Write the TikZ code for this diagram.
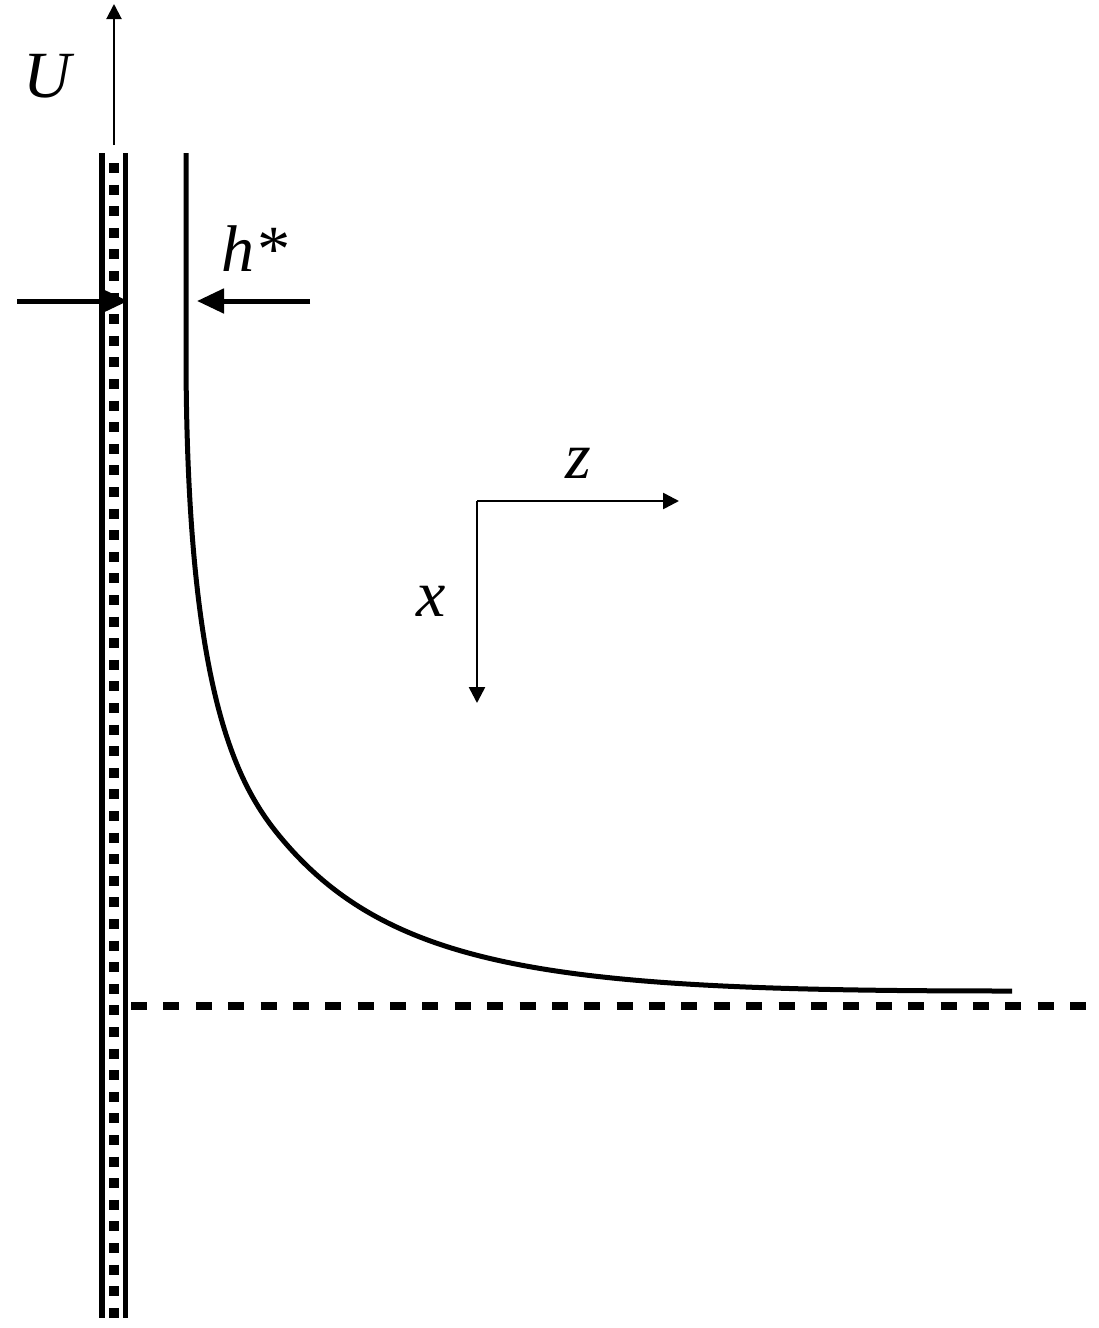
\documentclass[tikz,border=0pt]{standalone}
\usepackage{fontspec}
\setmainfont{Liberation Serif}
\usetikzlibrary{arrows.meta}
\begin{document}
\begin{tikzpicture}[x=1pt,y=-1pt,
  wall/.style={line width=5.5pt},
  pores/.style={line width=10pt, dash pattern=on 10pt off 11.6pt},
  film/.style={line width=5pt},
  thinarrow/.style={line width=2pt,-{Triangle[length=15pt,width=15pt]}},
  axisarrow/.style={line width=2.6pt,-{Triangle[length=16pt,width=16pt]}},
  harrow/.style={line width=5pt,-{Triangle[length=27pt,width=24pt]}},
  levelline/.style={line width=8pt,dash pattern=on 16pt off 16.38pt},
  lab/.style={font=\fontsize{66}{70}\selectfont\itshape, inner sep=0pt, anchor=base}]
\useasboundingbox (0,0) rectangle (1098,1328);

% plate
\coordinate (wlt) at (102,153);  \coordinate (wlb) at (102,1318);
\coordinate (wrt) at (125.5,153); \coordinate (wrb) at (125.5,1318);
\coordinate (pt) at (114,163);   \coordinate (pb) at (114,1318);
\draw[wall] (wlt) -- (wlb);
\draw[wall] (wrt) -- (wrb);
\draw[pores] (pt) -- (pb);

% U arrow
\coordinate (ustart) at (114,145);
\coordinate (uend) at (114,4);
\draw[thinarrow] (ustart) -- (uend);
\node[lab] (U) at (47,97) {U};

% film surface
\coordinate (f0) at (186,153);
\coordinate (f1) at (186,350);
\coordinate (f2) at (277,833);
\coordinate (f3) at (1012,991);
\draw[film] (f0) -- (f1)
  .. controls (186,680) and (233.1,778.5) .. (f2)
  .. controls (389.9,973) and (562,991) .. (f3);

% h* arrows
\coordinate (hl0) at (17,301);  \coordinate (hl1) at (128,301);
\coordinate (hr0) at (310,301); \coordinate (hr1) at (197,301);
\draw[harrow] (hl0) -- (hl1);
\draw[harrow] (hr0) -- (hr1);
\node[lab] (hstar) at (254,271) {h*};

% axes
\coordinate (o) at (477,501);
\coordinate (zend) at (679,501);
\coordinate (xend) at (477,703);
\draw[axisarrow] (o) -- (zend);
\draw[axisarrow] (o) -- (xend);
\node[lab] (zlab) at (578,478) {z};
\node[lab] (xlab) at (431,616) {x};

% level line
\coordinate (d0) at (131,1006);
\coordinate (d1) at (1098,1006);
\draw[levelline] (d0) -- (d1);
\end{tikzpicture}
\end{document}
